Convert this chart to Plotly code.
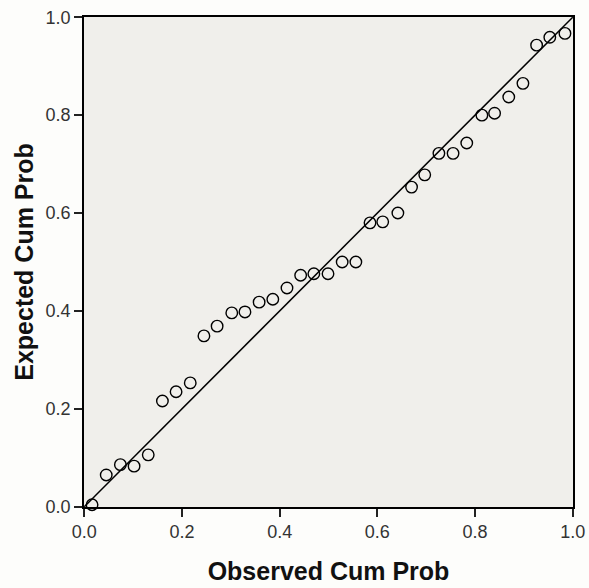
import plotly.graph_objects as go

observed = [0.016, 0.045, 0.074, 0.102, 0.131, 0.160, 0.188, 0.217, 0.245, 0.272,
            0.302, 0.329, 0.358, 0.386, 0.415, 0.443, 0.470, 0.499, 0.528, 0.556,
            0.585, 0.611, 0.642, 0.670, 0.697, 0.726, 0.755, 0.783, 0.814, 0.840,
            0.869, 0.898, 0.926, 0.953, 0.984]
expected = [0.004, 0.065, 0.086, 0.083, 0.106, 0.216, 0.235, 0.253, 0.349, 0.369,
            0.396, 0.398, 0.418, 0.424, 0.447, 0.473, 0.476, 0.476, 0.500, 0.500,
            0.580, 0.582, 0.600, 0.653, 0.678, 0.722, 0.722, 0.743, 0.800, 0.804,
            0.837, 0.865, 0.943, 0.959, 0.967]
ref_line = [0.0, 1.0]
axis_range = [-0.0005, 1.0005]
tick_vals = [0.0, 0.2, 0.4, 0.6, 0.8, 1.0]
tick_text = ["0.0", "0.2", "0.4", "0.6", "0.8", "1.0"]

fig = go.Figure()
fig.add_trace(go.Scatter(x=ref_line, y=ref_line, mode="lines",
                         line=dict(color="black", width=1.5), showlegend=False,
                         hoverinfo="skip", cliponaxis=False))
fig.add_trace(go.Scatter(x=observed, y=expected, mode="markers",
                         marker=dict(symbol="circle-open", size=11.5,
                                     color="black", line=dict(width=1.4)),
                         showlegend=False, cliponaxis=False))

title_font = dict(family="Liberation Sans", size=25, color="#111", weight="bold")
axis_common = dict(range=axis_range, tickvals=tick_vals, ticktext=tick_text,
                   showgrid=False, zeroline=False, showline=True,
                   linecolor="black", linewidth=1.5, mirror=True,
                   ticks="outside", ticklen=8, tickwidth=1.5, tickcolor="#222",
                   automargin=False,
                   tickfont=dict(family="Liberation Sans", size=18, color="#333"))

fig.update_layout(
    template="none",
    width=589, height=588,
    margin=dict(l=84, r=16, t=17, b=81),
    paper_bgcolor="#FDFDFB",
    plot_bgcolor="#F0EFEB",
    xaxis=dict(**axis_common,
               title=dict(text="Observed Cum Prob", standoff=21, font=title_font)),
    yaxis=dict(**axis_common,
               title=dict(text="Expected Cum Prob", standoff=5, font=title_font)),
)

fig.write_html(
    "out.html",
    config={"displayModeBar": False},
    post_script="document.body.style.margin='0';document.body.style.overflow='hidden';",
)
